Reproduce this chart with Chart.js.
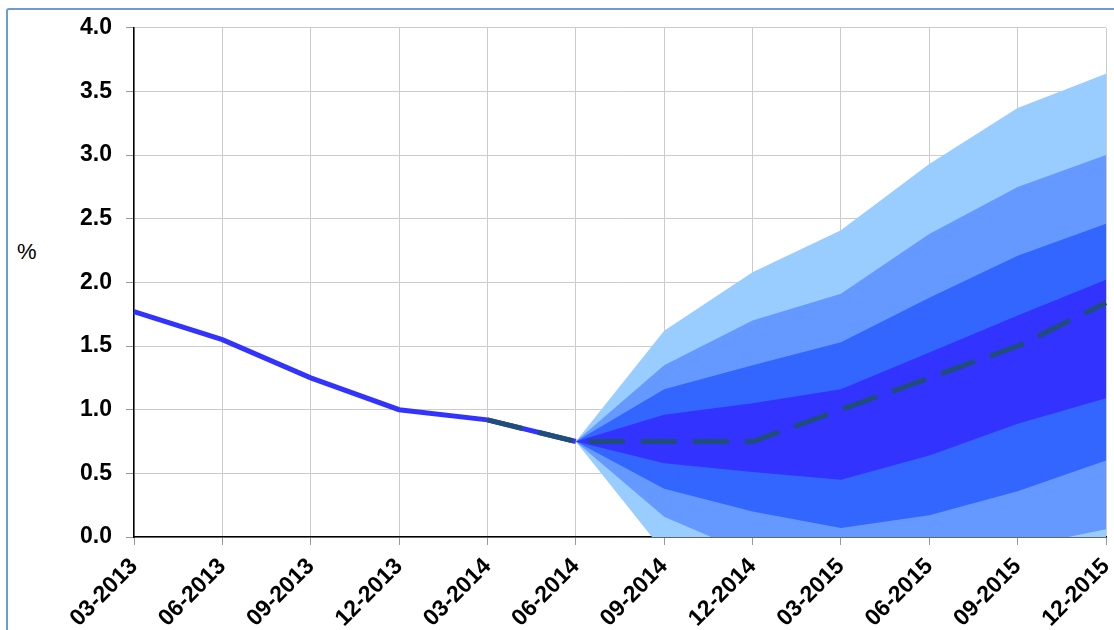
<!DOCTYPE html>
<html>
<head>
<meta charset="utf-8">
<script src="https://cdn.jsdelivr.net/npm/chart.js@4.4.1/dist/chart.umd.min.js"></script>
<style>
    html, body { margin: 0; padding: 0; background: #fff; overflow: hidden; }
    #wrap { position: relative; width: 1114px; height: 630px; }
    #frame { position: absolute; left: 6px; top: 8px; width: 1200px; height: 700px;
             border: 2px solid #6d9bd5; border-radius: 3px; }
    #unit { position: absolute; left: 17px; top: 239px; font: 22px "Liberation Sans", Arial, sans-serif; color: #000; }
    canvas { position: absolute; left: 0; top: 0; }
</style>
</head>
<body>
<div id="wrap">
    <div id="frame"></div>
    <div id="unit">%</div>
    <canvas id="chart" width="1114" height="630"></canvas>
</div>
<script>
// Trimestres no eixo x
const trimestres = ['03-2013', '06-2013', '09-2013', '12-2013', '03-2014', '06-2014',
                    '09-2014', '12-2014', '03-2015', '06-2015', '09-2015', '12-2015'];

// Série observada e projeção central
const observado = [1.77, 1.55, 1.25, 1.00, 0.92, 0.75, null, null, null, null, null, null];
const central   = [null, null, null, null, 0.92, 0.75, 0.75, 0.75, 1.00, 1.25, 1.50, 1.84];

// Limites das bandas do leque (do centro para fora)
const banda1Sup = [null, null, null, null, null, 0.75, 0.96, 1.05, 1.16, 1.45, 1.74, 2.02];
const banda1Inf = [null, null, null, null, null, 0.75, 0.58, 0.51, 0.45, 0.64, 0.89, 1.09];
const banda2Sup = [null, null, null, null, null, 0.75, 1.16, 1.35, 1.53, 1.88, 2.21, 2.46];
const banda2Inf = [null, null, null, null, null, 0.75, 0.38, 0.20, 0.07, 0.17, 0.36, 0.60];
const banda3Sup = [null, null, null, null, null, 0.75, 1.35, 1.70, 1.91, 2.38, 2.75, 3.00];
const banda3Inf = [null, null, null, null, null, 0.75, 0.16, -0.14, -0.35, -0.30, -0.08, 0.06];
const banda4Sup = [null, null, null, null, null, 0.75, 1.62, 2.08, 2.41, 2.93, 3.37, 3.64];
const banda4Inf = [null, null, null, null, null, 0.75, -0.12, -0.60, -0.80, -0.80, -0.60, -0.40];

const yTicks = [0, 0.5, 1, 1.5, 2, 2.5, 3, 3.5, 4];

const fonte = { family: '"Liberation Sans", Arial, sans-serif', size: 23, weight: 'bold' };

function banda(sup, inf, cor) {
    return [
        { data: sup, fill: '+1', backgroundColor: cor, borderColor: 'rgba(0,0,0,0)',
          borderWidth: 0, pointRadius: 0, tension: 0 },
        { data: inf, fill: false, borderColor: 'rgba(0,0,0,0)',
          borderWidth: 0, pointRadius: 0, tension: 0 }
    ];
}

const ctx = document.getElementById('chart').getContext('2d');
new Chart(ctx, {
    type: 'line',
    data: {
        labels: trimestres,
        datasets: [
            { data: central, borderColor: '#1f4e79', borderWidth: 5, borderDash: [36, 16],
              pointRadius: 0, fill: false, tension: 0 },
            { data: observado, borderColor: '#3333ff', borderWidth: 5,
              pointRadius: 0, fill: false, tension: 0 },
            ...banda(banda1Sup, banda1Inf, '#3333ff'),
            ...banda(banda2Sup, banda2Inf, '#3366ff'),
            ...banda(banda3Sup, banda3Inf, '#6699ff'),
            ...banda(banda4Sup, banda4Inf, '#99ccff'),
        ],
    },
    options: {
        responsive: false,
        animation: false,
        layout: { padding: { left: 0, top: 27, right: 0, bottom: 0 } },
        plugins: { legend: { display: false }, tooltip: { enabled: false } },
        scales: {
            x: {
                grid: { color: '#cccccc', lineWidth: 1, tickLength: 8, tickColor: '#999999' },
                border: { color: '#000000', width: 1.5 },
                ticks: { color: '#000', font: fonte, minRotation: 45, maxRotation: 45, padding: 8 },
                afterFit: scale => {
                    scale.height = 93;
                    scale.paddingLeft = 0;
                    scale.paddingRight = 8;
                },
            },
            y: {
                min: 0,
                max: 4,
                afterBuildTicks: scale => { scale.ticks = yTicks.map(v => ({ value: v })); },
                grid: { color: '#cccccc', lineWidth: 1, tickLength: 8, tickColor: '#999999' },
                border: { color: '#000000', width: 1.5 },
                ticks: { color: '#000', font: fonte, padding: 14,
                         callback: v => Number(v).toFixed(1) },
                afterFit: scale => { scale.width = 134; },
            },
        },
    },
});
</script>
</body>
</html>
